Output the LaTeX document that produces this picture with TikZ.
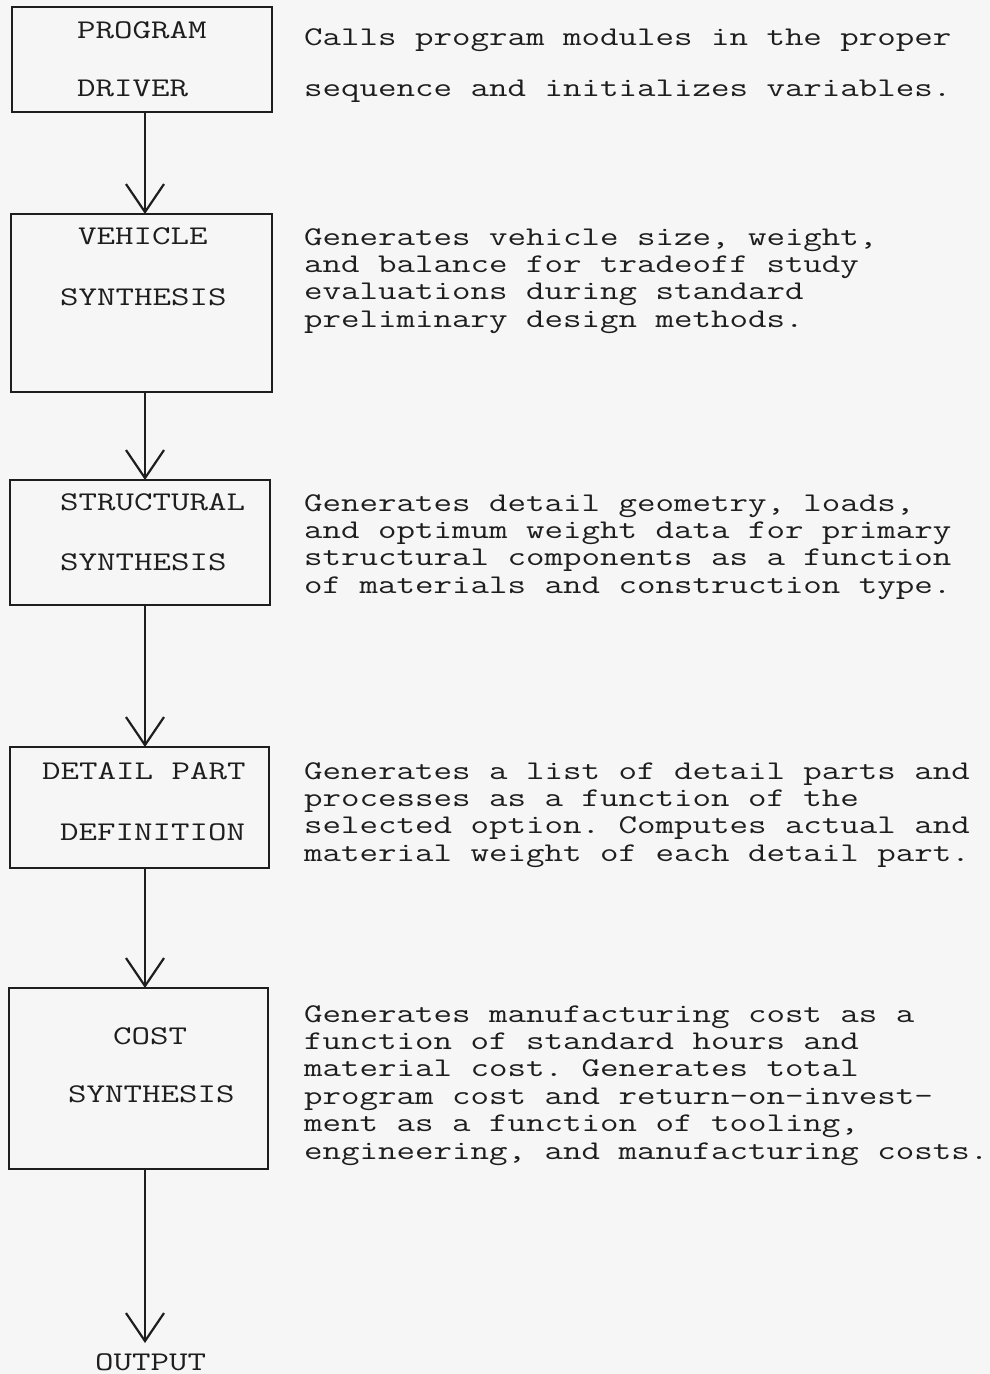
\documentclass[tikz,border=0pt]{standalone}
\usepackage{fontspec}
\setmonofont[FakeStretch=1.33]{Latin Modern Mono}
\usetikzlibrary{arrows.meta}
\definecolor{ink}{RGB}{30,30,30}
\definecolor{paper}{RGB}{246,246,246}
\begin{document}
\begin{tikzpicture}[x=1pt,y=-1pt,
  box/.style={draw=ink,line width=2.2pt,inner sep=0pt,outer sep=0pt},
  lbl/.style={anchor=base west,inner sep=0pt,font=\ttfamily\fontsize{27}{27}\selectfont,text=ink},
  desc/.style={anchor=base west,inner sep=0pt,align=left,font=\ttfamily\fontsize{27}{27.4}\selectfont,text=ink},
  flow/.style={draw=ink,line width=1.8pt,-{Straight Barb[length=28pt,width=38pt,line width=2.2pt]}}]
\fill[paper] (0,0) rectangle (990,1374);
\useasboundingbox (0,0) rectangle (990,1374);
\coordinate (ax) at (145,0);
% boxes
\node[box,minimum width=260pt,minimum height=105pt] (b1) at (142,59.5) {};
\node[box,minimum width=261pt,minimum height=178pt] (b2) at (141.5,303) {};
\node[box,minimum width=260pt,minimum height=125pt] (b3) at (140,542.5) {};
\node[box,minimum width=259pt,minimum height=121pt] (b4) at (139.5,807.5) {};
\node[box,minimum width=259pt,minimum height=181pt] (b5) at (138.5,1078.5) {};
% box labels
\node[lbl] (l1a) at (77,38) {PROGRAM};
\node[lbl] (l1b) at (77,96) {DRIVER};
\node[lbl] (l2a) at (78,244) {VEHICLE};
\node[lbl] (l2b) at (60,305) {SYNTHESIS};
\node[lbl] (l3a) at (60,510) {STRUCTURAL};
\node[lbl] (l3b) at (60,570) {SYNTHESIS};
\node[lbl] (l4a) at (42,779) {DETAIL PART};
\node[lbl] (l4b) at (60,840) {DEFINITION};
\node[lbl] (l5a) at (113,1044) {COST};
\node[lbl] (l5b) at (68,1102) {SYNTHESIS};
\node[lbl] (out) at (95,1370) {OUTPUT};
% descriptions (anchored at the baseline of their last line)
\node[desc] (d1a) at (304,45) {Calls program modules in the proper};
\node[desc] (d1b) at (304,96) {sequence and initializes variables.};
\node[desc] (d2) at (304,327.2) {Generates vehicle size, weight,\\and balance for tradeoff study\\evaluations during standard\\preliminary design methods.};
\node[desc] (d3) at (304,593.2) {Generates detail geometry, loads,\\and optimum weight data for primary\\structural components as a function\\of materials and construction type.};
\node[desc] (d4) at (304,861.2) {Generates a list of detail parts and\\processes as a function of the\\selected option. Computes actual and\\material weight of each detail part.};
\node[desc] (d5) at (304,1159) {Generates manufacturing cost as a\\function of standard hours and\\material cost. Generates total\\program cost and return-on-invest-\\ment as a function of tooling,\\engineering, and manufacturing costs.};
% connectors
\coordinate (end) at (145,1343);
\draw[flow] (b1.south -| ax) -- (b2.north -| ax);
\draw[flow] (b2.south -| ax) -- (b3.north -| ax);
\draw[flow] (b3.south -| ax) -- (b4.north -| ax);
\draw[flow] (b4.south -| ax) -- (b5.north -| ax);
\draw[flow] (b5.south -| ax) -- (end);
\end{tikzpicture}
\end{document}
